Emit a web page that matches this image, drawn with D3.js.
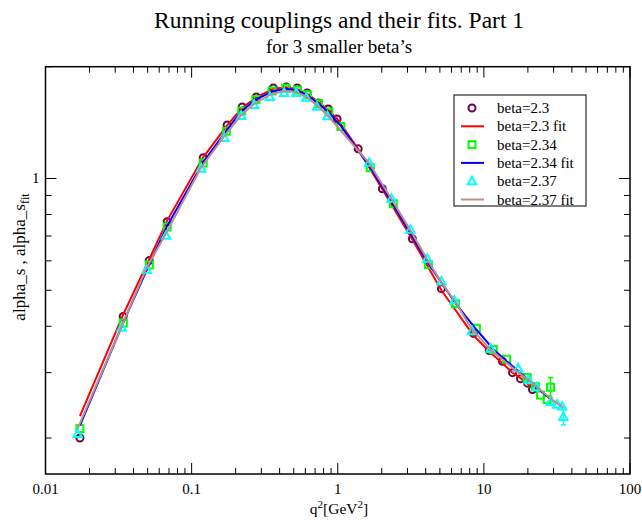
<!DOCTYPE html>
<html>
<head>
<meta charset="utf-8">
<script src="https://cdn.jsdelivr.net/npm/d3@7"></script>
<style>
  body { margin: 0; background: #fff; }
  text { font-family: "Liberation Serif", "Times New Roman", serif; }
</style>
</head>
<body>
<svg id="chart" width="642" height="522"></svg>
<script>
// beta = 2.3
var q2_230 = [0.0172, 0.034, 0.0512, 0.068, 0.12, 0.175, 0.222, 0.277, 0.362, 0.444, 0.528, 0.618, 0.735, 0.861, 0.99, 1.38, 2.02, 3.24, 5.12, 8.48, 10.9, 13.4, 15.7, 17.8, 19.9, 21.5];
var a_230  = [0.200, 0.425, 0.601, 0.765, 1.137, 1.394, 1.558, 1.658, 1.753, 1.764, 1.753, 1.699, 1.598, 1.539, 1.447, 1.202, 0.938, 0.688, 0.505, 0.383, 0.344, 0.322, 0.300, 0.289, 0.281, 0.270];
var fit_230 = [0.229, 0.430, 0.605, 0.770, 1.140, 1.390, 1.550, 1.655, 1.745, 1.760, 1.740, 1.690, 1.610, 1.530, 1.450, 1.200, 0.935, 0.685, 0.500, 0.378, 0.342, 0.318, 0.300, 0.290, 0.280, 0.272];

// beta = 2.34
var q2_234 = [0.0172, 0.0341, 0.0514, 0.068, 0.12, 0.173, 0.22, 0.275, 0.355, 0.44, 0.53, 0.62, 0.74, 0.87, 1.05, 1.67, 2.40, 4.17, 6.38, 8.88, 11.6, 14.3, 19.8, 22.5, 24.4, 27.1, 28.6];
var a_234  = [0.212, 0.408, 0.585, 0.740, 1.100, 1.340, 1.520, 1.630, 1.720, 1.750, 1.730, 1.680, 1.590, 1.510, 1.380, 1.069, 0.855, 0.586, 0.460, 0.395, 0.346, 0.326, 0.291, 0.275, 0.261, 0.254, 0.274];
var e_234  = [0, 0, 0, 0, 0, 0, 0, 0, 0, 0, 0, 0, 0, 0, 0, 0, 0, 0, 0, 0, 0, 0, 0, 0, 0, 0, 0.017];
var fit_234 = [0.216, 0.410, 0.588, 0.745, 1.105, 1.345, 1.520, 1.630, 1.715, 1.745, 1.725, 1.675, 1.590, 1.505, 1.385, 1.070, 0.850, 0.590, 0.462, 0.392, 0.347, 0.322, 0.289, 0.277, 0.268, 0.259, 0.255];

// beta = 2.37
var q2_237 = [0.0166, 0.0332, 0.0493, 0.0669, 0.116, 0.1675, 0.218, 0.268, 0.343, 0.43, 0.52, 0.61, 0.72, 0.85, 1.64, 2.33, 3.14, 4.10, 5.12, 6.28, 8.30, 11.1, 17.2, 20.2, 22.9, 28.6, 31.7, 34.3, 35.0];
var a_237  = [0.205, 0.396, 0.567, 0.701, 1.062, 1.286, 1.474, 1.578, 1.658, 1.700, 1.700, 1.650, 1.560, 1.470, 1.102, 0.882, 0.728, 0.608, 0.528, 0.469, 0.388, 0.348, 0.308, 0.286, 0.274, 0.250, 0.246, 0.243, 0.228];
var e_237  = [0, 0, 0, 0, 0, 0, 0, 0, 0, 0, 0, 0, 0, 0, 0, 0, 0, 0, 0, 0, 0, 0, 0, 0, 0, 0, 0, 0, 0.011];
var fit_237 = [0.212, 0.400, 0.575, 0.712, 1.070, 1.300, 1.480, 1.590, 1.680, 1.720, 1.710, 1.660, 1.575, 1.480, 1.100, 0.880, 0.725, 0.605, 0.525, 0.470, 0.392, 0.346, 0.300, 0.287, 0.275, 0.256, 0.248, 0.243, 0.241];

var xTicks = [0.01, 0.1, 1, 10, 100];
var yTicks = [1];

var svg = d3.select("#chart");
var mLeft = 45.5, mRight = 630, mTop = 66.7, mBottom = 474;

var x = d3.scaleLog().domain([0.01, 100]).range([mLeft, mRight]);
var y = d3.scaleLog().domain([0.16, 2]).range([mBottom, mTop]);

// minor ticks (2..9 of each decade)
var xMinor = [], yMinor = [];
[0.01, 0.1, 1, 10].forEach(function(d){ for (var k = 2; k < 10; k++) xMinor.push(d * k); });
[0.1, 1].forEach(function(d){ for (var k = 2; k < 10; k++) { var v = d * k; if (v >= 0.16 && v <= 2.001) yMinor.push(v); } });

var axes = svg.append("g");
function tick(x1, y1, x2, y2) {
  axes.append("line").attr("x1", x1).attr("y1", y1).attr("x2", x2).attr("y2", y2).attr("stroke", "#000");
}
xTicks.forEach(function(v){ tick(x(v), mBottom, x(v), mBottom - 11); tick(x(v), mTop, x(v), mTop + 11); });
xMinor.forEach(function(v){ tick(x(v), mBottom, x(v), mBottom - 6); tick(x(v), mTop, x(v), mTop + 6); });
yTicks.forEach(function(v){ tick(mLeft, y(v), mLeft + 11, y(v)); tick(mRight, y(v), mRight - 11, y(v)); });
yMinor.forEach(function(v){ tick(mLeft, y(v), mLeft + 6, y(v)); tick(mRight, y(v), mRight - 6, y(v)); });

axes.append("rect").attr("x", mLeft).attr("y", mTop).attr("width", mRight - mLeft).attr("height", mBottom - mTop)
  .attr("fill", "none").attr("stroke", "#000").attr("stroke-width", 1.5);

axes.selectAll(".xl").data(xTicks).enter().append("text")
  .attr("x", function(d){ return x(d); }).attr("y", mBottom + 20)
  .attr("text-anchor", "middle").attr("font-size", 15)
  .text(function(d){ return d3.format("~g")(d); });
axes.selectAll(".yl").data(yTicks).enter().append("text")
  .attr("x", mLeft - 6).attr("y", function(d){ return y(d) + 5; })
  .attr("text-anchor", "end").attr("font-size", 15)
  .text(function(d){ return d; });

// titles
svg.append("text").attr("x", 339).attr("y", 28).attr("text-anchor", "middle").attr("font-size", 23.5)
  .text("Running couplings and their fits. Part 1");
svg.append("text").attr("x", 339).attr("y", 53).attr("text-anchor", "middle").attr("font-size", 19)
  .text("for 3 smaller beta\u2019s");

var xl = svg.append("text").attr("x", 339).attr("y", 514).attr("text-anchor", "middle").attr("font-size", 15.5);
xl.append("tspan").text("q");
xl.append("tspan").attr("dy", -6).attr("font-size", 11).text("2");
xl.append("tspan").attr("dy", 6).text("[GeV");
xl.append("tspan").attr("dy", -6).attr("font-size", 11).text("2");
xl.append("tspan").attr("dy", 6).text("]");

var yl = svg.append("text").attr("transform", "translate(25,257) rotate(-90)").attr("text-anchor", "middle")
  .attr("font-size", 17);
yl.append("tspan").text("alpha_s , alpha_s");
yl.append("tspan").attr("dy", 4).attr("font-size", 12).text("fit");

// fit lines
var line = d3.line().x(function(d){ return x(d[0]); }).y(function(d){ return y(d[1]); });
function drawFit(q, f, color) {
  svg.append("path").datum(d3.zip(q, f)).attr("d", line)
    .attr("fill", "none").attr("stroke", color).attr("stroke-width", 2);
}

var sym = {
  circle: function(g, cx, cy){ g.append("circle").attr("cx", cx).attr("cy", cy).attr("r", 3.5); },
  square: function(g, cx, cy){ g.append("rect").attr("x", cx - 3.5).attr("y", cy - 3.5).attr("width", 7).attr("height", 7); },
  triangle: function(g, cx, cy){ g.append("path").attr("d", "M" + cx + "," + (cy - 4.5) + "L" + (cx + 4.2) + "," + (cy + 3) + "L" + (cx - 4.2) + "," + (cy + 3) + "Z"); }
};

function drawPoints(q, a, e, color, shape) {
  var g = svg.append("g").attr("fill", "none").attr("stroke", color).attr("stroke-width", 2);
  q.forEach(function(v, i){
    var err = e ? e[i] : 0;
    if (err > 0) {
      var y1 = y(a[i] + err), y2 = y(a[i] - err);
      g.append("line").attr("x1", x(v)).attr("x2", x(v)).attr("y1", y1).attr("y2", y2).attr("stroke-width", 1.5);
      g.append("line").attr("x1", x(v) - 2.5).attr("x2", x(v) + 2.5).attr("y1", y1).attr("y2", y1).attr("stroke-width", 1.5);
      g.append("line").attr("x1", x(v) - 2.5).attr("x2", x(v) + 2.5).attr("y1", y2).attr("y2", y2).attr("stroke-width", 1.5);
    }
    sym[shape](g, x(v), y(a[i]));
  });
}

drawPoints(q2_230, a_230, null, "#670748", "circle");
drawFit(q2_230, fit_230, "#ff0000");
drawPoints(q2_234, a_234, e_234, "#00ff00", "square");
drawFit(q2_234, fit_234, "#0000ff");
drawPoints(q2_237, a_237, e_237, "#00ffff", "triangle");
drawFit(q2_237, fit_237, "#bc8f8f");

// legend
var legend = [
  { label: "beta=2.3", color: "#670748", shape: "circle" },
  { label: "beta=2.3 fit", color: "#ff0000" },
  { label: "beta=2.34", color: "#00ff00", shape: "square" },
  { label: "beta=2.34 fit", color: "#0000ff" },
  { label: "beta=2.37", color: "#00ffff", shape: "triangle" },
  { label: "beta=2.37 fit", color: "#bc8f8f" }
];
var lg = svg.append("g");
lg.append("rect").attr("x", 454).attr("y", 95).attr("width", 132).attr("height", 111)
  .attr("fill", "#fff").attr("stroke", "#000").attr("stroke-width", 1);
legend.forEach(function(d, i){
  var ly = 108 + i * 18.3;
  if (d.shape) {
    var g = lg.append("g").attr("fill", "none").attr("stroke", d.color).attr("stroke-width", 2);
    sym[d.shape](g, 472, ly);
  } else {
    lg.append("line").attr("x1", 461).attr("x2", 484).attr("y1", ly).attr("y2", ly)
      .attr("stroke", d.color).attr("stroke-width", 2);
  }
  lg.append("text").attr("x", 497).attr("y", ly + 5).attr("font-size", 15).text(d.label);
});
</script>
</body>
</html>
